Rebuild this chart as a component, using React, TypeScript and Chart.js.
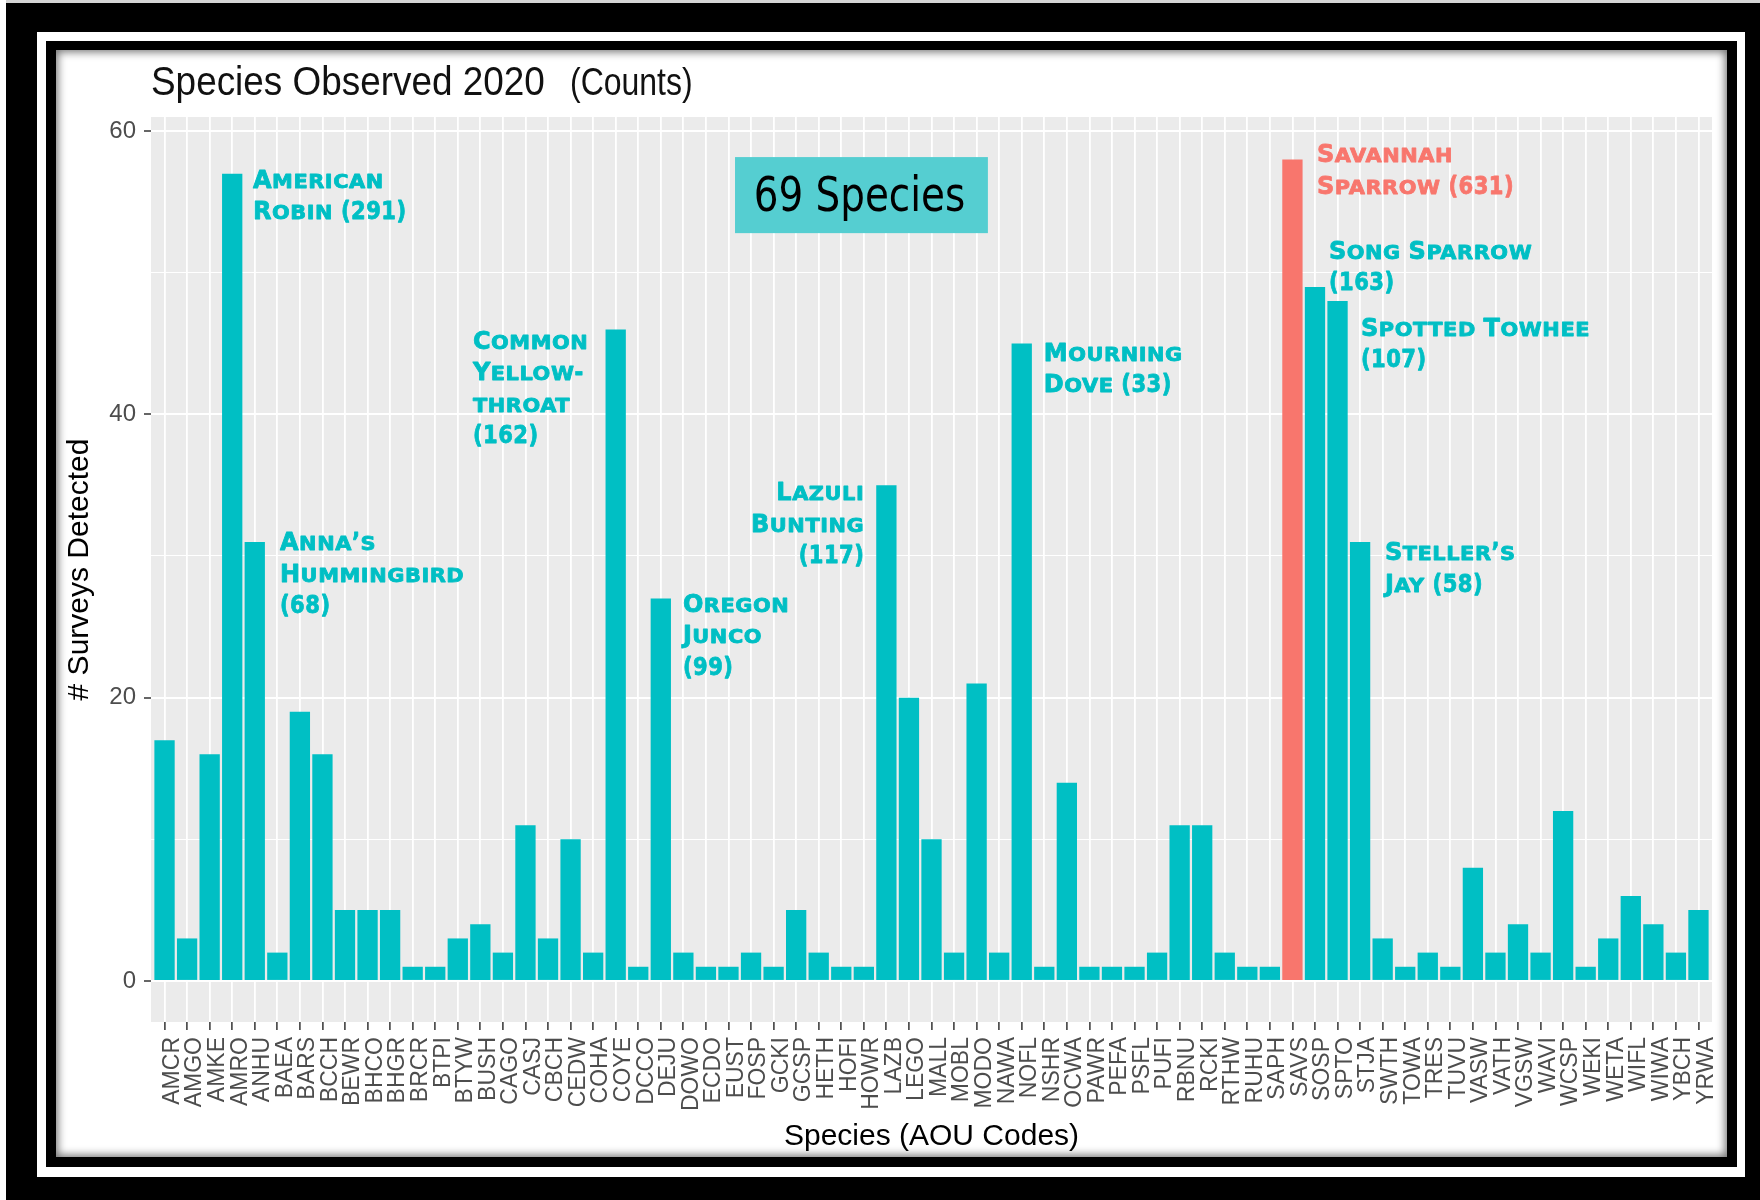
import React, { useEffect, useRef } from 'react';
import { Chart, registerables } from 'chart.js';

Chart.register(...registerables);

// ---------------- data ----------------
const species = [
  'AMCR', 'AMGO', 'AMKE', 'AMRO', 'ANHU', 'BAEA', 'BARS', 'BCCH', 'BEWR', 'BHCO',
  'BHGR', 'BRCR', 'BTPI', 'BTYW', 'BUSH', 'CAGO', 'CASJ', 'CBCH', 'CEDW', 'COHA',
  'COYE', 'DCCO', 'DEJU', 'DOWO', 'ECDO', 'EUST', 'FOSP', 'GCKI', 'GCSP', 'HETH',
  'HOFI', 'HOWR', 'LAZB', 'LEGO', 'MALL', 'MOBL', 'MODO', 'NAWA', 'NOFL', 'NSHR',
  'OCWA', 'PAWR', 'PEFA', 'PSFL', 'PUFI', 'RBNU', 'RCKI', 'RTHW', 'RUHU', 'SAPH',
  'SAVS', 'SOSP', 'SPTO', 'STJA', 'SWTH', 'TOWA', 'TRES', 'TUVU', 'VASW', 'VATH',
  'VGSW', 'WAVI', 'WCSP', 'WEKI', 'WETA', 'WIFL', 'WIWA', 'YBCH', 'YRWA',
];

const surveysDetected = [
  17, 3, 16, 57, 31, 2, 19, 16, 5, 5,
  5, 1, 1, 3, 4, 2, 11, 3, 10, 2,
  46, 1, 27, 2, 1, 1, 2, 1, 5, 2,
  1, 1, 35, 20, 10, 2, 21, 2, 45, 1,
  14, 1, 1, 1, 2, 11, 11, 2, 1, 1,
  58, 49, 48, 31, 3, 1, 2, 1, 8, 2,
  4, 2, 12, 1, 3, 6, 4, 2, 5,
];

const highlightedSpecies = ['SAVS'];

const yGridValues = [0, 10, 20, 30, 40, 50, 60];
const yLabelledValues = [0, 20, 40, 60];

const titleMain = 'Species Observed 2020';
const titleSub = '(Counts)';
const xAxisTitle = 'Species (AOU Codes)';
const yAxisTitle = '# Surveys Detected';
const speciesBoxText = '69 Species';

// annotation texts (anchored in data space: x = category position, y = value)
const annotationLines = [
  ['American', 'Robin (291)'],
  ['Anna\u2019s', 'Hummingbird', '(68)'],
  ['Common', 'Yellow-', 'throat', '(162)'],
  ['Lazuli', 'Bunting', '(117)'],
  ['Oregon', 'Junco', '(99)'],
  ['Mourning', 'Dove (33)'],
  ['Savannah', 'Sparrow (631)'],
  ['Song Sparrow', '(163)'],
  ['Spotted Towhee', '(107)'],
  ['Steller\u2019s', 'Jay (58)'],
];
const annotationAnchorX = [4.92, 6.12, 14.67, 32.02, 23.98, 39.98, 52.09, 52.62, 54.04, 55.1];
const annotationAnchorY = [56.0, 30.42, 44.65, 33.94, 26.06, 43.8, 57.82, 50.99, 45.56, 29.72];
const annotationAlign = ['left', 'left', 'left', 'right', 'left', 'left', 'left', 'left', 'left', 'left'];
const annotationHighlight = [false, false, false, false, false, false, true, false, false, false];

// box for "69 Species" in data space
const boxX = [26.29, 37.5];
const boxY = [52.8, 58.17];

// ---------------- styles ----------------
const TEAL = '#00BFC4';
const SALMON = '#F8766D';
const PANEL = '#EBEBEB';
const TICK_TEXT = '#4D4D4D';
const SANS = "'Liberation Sans', Arial, Helvetica, sans-serif";
const ANNOT_FONT = "'DejaVu Sans', Verdana, sans-serif";

function drawSmallCaps(
  ctx: CanvasRenderingContext2D,
  text: string,
  x: number,
  y: number,
  size: number,
  align: string,
  color: string,
) {
  const big = `bold ${size}px ${ANNOT_FONT}`;
  const small = `bold ${Math.round(size * 0.8)}px ${ANNOT_FONT}`;
  const runs: { font: string; t: string; w: number; sx: number; kind: string }[] = [];
  for (const ch of text) {
    const lower = ch !== ch.toUpperCase();
    const upper = !lower && ch !== ch.toLowerCase();
    const kind = lower ? 'small' : upper ? 'cap' : 'other';
    const font = lower ? small : big;
    const sx = lower ? 1.1 : upper ? 1 : 0.88;
    const c = lower ? ch.toUpperCase() : ch;
    const last = runs[runs.length - 1];
    if (last && last.kind === kind) last.t += c;
    else runs.push({ font, t: c, w: 0, sx, kind });
  }
  (ctx as any).letterSpacing = '0.5px';
  let total = 0;
  for (const r of runs) {
    ctx.font = r.font;
    r.w = ctx.measureText(r.t).width * r.sx;
    total += r.w;
  }
  let cx = align === 'right' ? x - total : x;
  ctx.textAlign = 'left';
  ctx.textBaseline = 'alphabetic';
  ctx.fillStyle = color;
  ctx.strokeStyle = color;
  ctx.lineWidth = 0.8;
  ctx.lineJoin = 'round';
  for (const r of runs) {
    ctx.save();
    ctx.font = r.font;
    ctx.translate(cx, y);
    ctx.scale(r.sx, 1);
    ctx.fillText(r.t, 0, 0);
    ctx.strokeText(r.t, 0, 0);
    ctx.restore();
    cx += r.w;
  }
  (ctx as any).letterSpacing = '0px';
}

const decorPlugin = {
  id: 'decor',
  beforeDraw(chart: any) {
    const { ctx, chartArea } = chart;
    ctx.save();
    ctx.fillStyle = PANEL;
    ctx.fillRect(chartArea.left, chartArea.top, chartArea.right - chartArea.left, chartArea.bottom - chartArea.top);
    ctx.restore();
  },
  afterDraw(chart: any) {
    const { ctx, chartArea } = chart;
    const xs = chart.scales.x;
    const ys = chart.scales.y;

    // title
    ctx.save();
    ctx.fillStyle = '#111111';
    ctx.textBaseline = 'alphabetic';
    ctx.textAlign = 'left';
    ctx.font = `41px ${SANS}`;
    ctx.translate(chartArea.left, chartArea.top - 22);
    ctx.scale(0.9, 1);
    ctx.fillText(titleMain, 0, 0);
    ctx.restore();

    ctx.save();
    ctx.fillStyle = '#111111';
    ctx.textBaseline = 'alphabetic';
    ctx.textAlign = 'left';
    ctx.font = `39px ${SANS}`;
    ctx.translate(chartArea.left + 419, chartArea.top - 22);
    ctx.scale(0.82, 1);
    ctx.fillText(titleSub, 0, 0);
    ctx.restore();

    // "69 Species" box
    const bx0 = xs.getPixelForValue(boxX[0]);
    const bx1 = xs.getPixelForValue(boxX[1]);
    const by0 = ys.getPixelForValue(boxY[1]);
    const by1 = ys.getPixelForValue(boxY[0]);
    ctx.save();
    ctx.fillStyle = '#55CED1';
    ctx.fillRect(bx0, by0, bx1 - bx0, by1 - by0);
    ctx.fillStyle = '#000000';
    ctx.font = `48px 'DejaVu Sans Condensed', 'Liberation Sans Narrow', sans-serif`;
    ctx.textAlign = 'center';
    ctx.textBaseline = 'middle';
    ctx.translate((bx0 + bx1) / 2 - 2, (by0 + by1) / 2 + 3);
    ctx.scale(0.9, 1);
    ctx.fillText(speciesBoxText, 0, 0);
    ctx.restore();

    // annotations
    ctx.save();
    annotationLines.forEach((lines, i) => {
      const px = xs.getPixelForValue(annotationAnchorX[i]);
      const py = ys.getPixelForValue(annotationAnchorY[i]);
      const color = annotationHighlight[i] ? SALMON : TEAL;
      lines.forEach((line, j) => {
        drawSmallCaps(ctx, line, px, py + j * 31.5, 24, annotationAlign[i], color);
      });
    });
    ctx.restore();
  },
};

export default function App() {
  const canvasRef = useRef<HTMLCanvasElement | null>(null);

  useEffect(() => {
    const canvas = canvasRef.current;
    if (!canvas) return;
    const chart = new Chart(canvas, {
      type: 'bar',
      data: {
        datasets: [
          {
            data: species.map((s, i) => ({ x: i + 1, y: surveysDetected[i] })) as any,
            backgroundColor: species.map((s) => (highlightedSpecies.includes(s) ? SALMON : TEAL)),
            borderWidth: 0,
            barPercentage: 0.9,
            categoryPercentage: 1.0,
          },
        ],
      },
      options: {
        animation: false,
        responsive: false,
        maintainAspectRatio: false,
        devicePixelRatio: 1,
        layout: { padding: { left: 0, top: 67, right: 15, bottom: 0 } },
        plugins: {
          legend: { display: false },
          title: { display: false },
          tooltip: { enabled: false },
        },
        scales: {
          x: {
            type: 'linear',
            offset: false,
            min: 0.4,
            max: 69.6,
            afterBuildTicks: (s: any) => {
              s.ticks = species.map((_, i) => ({ value: i + 1 }));
            },
            afterFit: (s: any) => {
              s.height = 135;
              s.paddingLeft = 0;
              s.paddingRight = 0;
            },
            ticks: {
              autoSkip: false,
              minRotation: 90,
              maxRotation: 90,
              padding: 7,
              labelOffset: 8,
              color: TICK_TEXT,
              font: { family: SANS, size: 23 },
              callback: (v: any) => species[Math.round(Number(v)) - 1] ?? '',
            },
            grid: {
              offset: false,
              color: '#FFFFFF',
              lineWidth: 1.8,
              tickColor: '#333333',
              tickWidth: 1.5,
              tickLength: 8,
            },
            border: { display: false },
            title: {
              display: true,
              text: xAxisTitle,
              color: '#000000',
              font: { family: SANS, size: 30 },
              padding: { top: 0, bottom: 2 },
            },
          } as any,
          y: {
            min: -2.9,
            max: 61.0,
            afterBuildTicks: (s: any) => {
              s.ticks = yGridValues.map((v) => ({ value: v }));
            },
            afterFit: (s: any) => {
              s.width = 95;
              s.paddingTop = 0;
              s.paddingBottom = 0;
            },
            ticks: {
              padding: 8,
              color: TICK_TEXT,
              font: { family: SANS, size: 24 },
              callback: (v: any) => (yLabelledValues.includes(Number(v)) ? String(v) : ''),
            },
            grid: {
              color: '#FFFFFF',
              lineWidth: (c: any) => (c.tick && c.tick.value % 20 === 0 ? 2 : 1.1),
              tickColor: (c: any) => (c.tick && c.tick.value % 20 === 0 ? '#333333' : 'rgba(0,0,0,0)'),
              tickWidth: 1.5,
              tickLength: 7,
            },
            border: { display: false },
            title: {
              display: true,
              text: yAxisTitle,
              color: '#000000',
              font: { family: SANS, size: 30 },
              padding: { top: 6, bottom: 0 },
            },
          } as any,
        },
      },
      plugins: [decorPlugin],
    });
    return () => chart.destroy();
  }, []);

  return (
    <div style={{ position: 'fixed', left: 0, top: 0, width: 1760, height: 1200, background: '#000', overflow: 'hidden' }}>
      <div style={{ position: 'absolute', left: 0, top: 0, width: 1760, height: 3, background: '#d4d4d4' }} />
      <div style={{ position: 'absolute', left: 0, top: 0, width: 6, height: 1200, background: '#ffffff' }} />
      <div style={{ position: 'absolute', left: 37, top: 32, width: 1708, height: 1145, background: '#ffffff' }} />
      <div style={{ position: 'absolute', left: 46, top: 41, width: 1691, height: 1126, background: '#000000' }} />
      <div
        style={{
          position: 'absolute',
          left: 56,
          top: 50,
          width: 1671,
          height: 1107,
          background: '#ffffff',
          boxShadow: 'inset 0 0 9px 2px rgba(0,0,0,0.55)',
        }}
      >
        <canvas
          ref={canvasRef}
          width={1671}
          height={1107}
          style={{ position: 'absolute', left: 0, top: 0, width: 1671, height: 1107 }}
        />
      </div>
    </div>
  );
}
